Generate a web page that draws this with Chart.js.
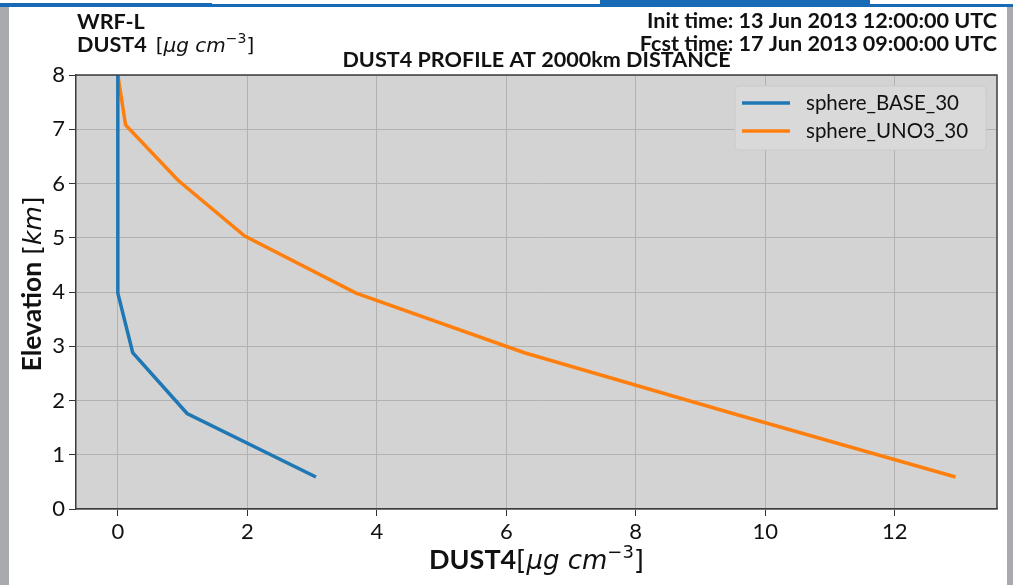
<!DOCTYPE html>
<html>
<head>
<meta charset="utf-8">
<script src="https://cdn.jsdelivr.net/npm/chart.js@4/dist/chart.umd.min.js"></script>
<style>
  html, body { margin: 0; padding: 0; background: #ffffff; }
  #wrap { width: 1013px; height: 585px; position: relative; }
</style>
</head>
<body>
<div id="wrap"><canvas id="c" width="1013" height="585"></canvas></div>
<script>
// Vertical dust profile, elevation in km against DUST4 concentration
const elevationKm = [0.59, 1.76, 2.88, 3.98, 5.03, 6.06, 7.08, 8.0];
const sphereBase30 = [3.06, 1.07, 0.23, 0.0, 0.0, 0.0, 0.0, 0.0];
const sphereUno3_30 = [12.94, 9.5, 6.28, 3.68, 1.96, 0.93, 0.12, 0.0];
const seriesLabels = ['sphere_BASE_30', 'sphere_UNO3_30'];
const xTickValues = [0, 2, 4, 6, 8, 10, 12];
const yTickValues = [0, 1, 2, 3, 4, 5, 6, 7, 8];

const toPoints = (xs) => xs.map((v, i) => ({ x: v, y: elevationKm[i] }));

// rich text: sequence of runs with own font and vertical shift
function drawRuns(ctx, runs, x, y, align) {
  let total = 0;
  runs.forEach(r => { ctx.font = r.font; r.w = ctx.measureText(r.t).width; total += r.w + (r.gap || 0); });
  let cx = align === 'right' ? x - total : align === 'center' ? x - total / 2 : x;
  ctx.textAlign = 'left';
  ctx.textBaseline = 'alphabetic';
  runs.forEach(r => {
    ctx.font = r.font;
    ctx.fillText(r.t, cx, y - (r.dy || 0));
    cx += r.w + (r.gap || 0);
  });
}

const decorations = {
  id: 'decorations',
  beforeDraw(chart) {
    const ctx = chart.ctx;
    const a = chart.chartArea;
    ctx.save();
    // window frame
    ctx.fillStyle = '#a8aaad';
    ctx.fillRect(0, 7, 9, 585);
    ctx.fillRect(1007, 7, 6, 585);
    ctx.fillStyle = '#176bb6';
    ctx.fillRect(0, 3, 212, 4);
    ctx.fillRect(212, 4, 801, 3);
    ctx.fillRect(600, 0, 270, 6);
    // plot background
    ctx.fillStyle = '#d3d3d3';
    ctx.fillRect(a.left, a.top, a.right - a.left, a.bottom - a.top);
    ctx.restore();
  },
  afterDraw(chart) {
    const ctx = chart.ctx;
    const a = chart.chartArea;
    ctx.save();
    ctx.fillStyle = '#111111';
    const bold = 'bold 21.6px Lato';
    ctx.font = bold;
    ctx.textBaseline = 'alphabetic';
    ctx.textAlign = 'left';
    ctx.fillText('WRF-L', 77, 29);
    drawRuns(ctx, [
      { t: 'DUST4', font: bold, gap: 9 },
      { t: '[', font: '20px "DejaVu Sans"' },
      { t: 'μg cm', font: 'oblique 20px "DejaVu Sans"' },
      { t: '−3', font: '14px "DejaVu Sans"', dy: 9 },
      { t: ']', font: '20px "DejaVu Sans"' }
    ], 77, 52, 'left');
    ctx.font = bold;
    ctx.textAlign = 'right';
    ctx.fillText('Init time: 13 Jun 2013 12:00:00 UTC', 997, 28);
    ctx.fillText('Fcst time: 17 Jun 2013 09:00:00 UTC', 997, 51);
    ctx.textAlign = 'center';
    ctx.fillText('DUST4 PROFILE AT 2000km DISTANCE', (a.left + a.right) / 2, 67);

    // x axis title
    drawRuns(ctx, [
      { t: 'DUST4', font: 'bold 27px Lato' },
      { t: '[', font: '26px "DejaVu Sans"' },
      { t: 'μg cm', font: 'oblique 26px "DejaVu Sans"' },
      { t: '−3', font: '18px "DejaVu Sans"', dy: 11 },
      { t: ']', font: '26px "DejaVu Sans"' }
    ], (a.left + a.right) / 2, 569, 'center');

    // y axis title
    ctx.save();
    ctx.translate(41, 284);
    ctx.rotate(-Math.PI / 2);
    drawRuns(ctx, [
      { t: 'Elevation', font: 'bold 26.5px Lato', gap: 7 },
      { t: '[', font: '25px "DejaVu Sans"' },
      { t: 'km', font: 'oblique 25px "DejaVu Sans"' },
      { t: ']', font: '25px "DejaVu Sans"' }
    ], 0, 0, 'center');
    ctx.restore();

    // legend box inside the plot
    const lx = 735, ly = 86, lw = 251, lh = 64;
    ctx.beginPath();
    ctx.roundRect(lx, ly, lw, lh, 4);
    ctx.fillStyle = '#d9d9d9';
    ctx.fill();
    ctx.strokeStyle = '#cacaca';
    ctx.lineWidth = 1;
    ctx.stroke();
    chart.data.datasets.forEach((ds, i) => {
      const yy = 103 + i * 28;
      ctx.strokeStyle = ds.borderColor;
      ctx.lineWidth = 3.5;
      ctx.beginPath();
      ctx.moveTo(742, yy);
      ctx.lineTo(790, yy);
      ctx.stroke();
      ctx.fillStyle = '#111111';
      ctx.font = '20.5px Lato';
      ctx.textAlign = 'left';
      ctx.textBaseline = 'middle';
      ctx.fillText(ds.label, 806, yy);
    });
    ctx.restore();
  }
};

new Chart(document.getElementById('c'), {
  type: 'scatter',
  data: {
    datasets: [
      { label: seriesLabels[0], data: toPoints(sphereBase30), borderColor: '#1f77b4', backgroundColor: '#1f77b4' },
      { label: seriesLabels[1], data: toPoints(sphereUno3_30), borderColor: '#ff7f0e', backgroundColor: '#ff7f0e' }
    ]
  },
  options: {
    responsive: false,
    animation: false,
    showLine: true,
    elements: {
      point: { radius: 0, hoverRadius: 0 },
      line: { borderWidth: 3.5, tension: 0, borderCapStyle: 'butt', borderJoinStyle: 'miter' }
    },
    layout: { padding: { left: 0, right: 16, top: 75, bottom: 0 } },
    plugins: { legend: { display: false }, tooltip: { enabled: false }, title: { display: false } },
    scales: {
      x: {
        type: 'linear',
        min: -0.646,
        max: 13.58,
        afterBuildTicks: (s) => { s.ticks = xTickValues.map(v => ({ value: v })); },
        afterFit: (s) => { s.height = 76; },
        grid: { color: '#b2b2b2', lineWidth: 1, tickColor: '#333333', tickLength: 7 },
        border: { display: true, color: '#3c3c3c', width: 1.5 },
        ticks: { font: { family: 'Lato', size: 22 }, color: '#111111', padding: 3, maxRotation: 0 }
      },
      y: {
        type: 'linear',
        min: 0,
        max: 8,
        afterBuildTicks: (s) => { s.ticks = yTickValues.map(v => ({ value: v })); },
        afterFit: (s) => { s.width = 76; },
        grid: { color: '#b2b2b2', lineWidth: 1, tickColor: '#333333', tickLength: 7 },
        border: { display: true, color: '#3c3c3c', width: 1.5 },
        ticks: { font: { family: 'Lato', size: 22 }, color: '#111111', padding: 4 }
      }
    }
  },
  plugins: [decorations, {
    id: 'frame',
    afterDatasetsDraw(chart) {
      // top and right spines
      const ctx = chart.ctx, a = chart.chartArea;
      ctx.save();
      ctx.strokeStyle = '#3c3c3c';
      ctx.lineWidth = 1.5;
      ctx.beginPath();
      ctx.moveTo(a.left, a.top);
      ctx.lineTo(a.right, a.top);
      ctx.lineTo(a.right, a.bottom);
      ctx.stroke();
      ctx.restore();
    }
  }]
});
</script>
</body>
</html>
